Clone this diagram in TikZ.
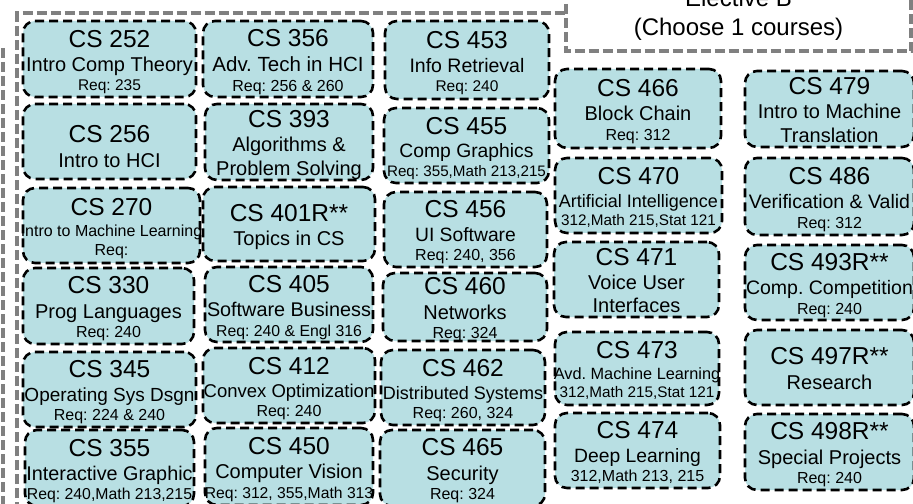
\documentclass[tikz,border=0pt]{standalone}
\usepackage{fontspec}
\setmainfont{Liberation Sans}
\frenchspacing
\definecolor{boxfill}{RGB}{184,223,227}
\definecolor{framegray}{RGB}{128,128,128}
\tikzset{
  coursebox/.style={draw=black, fill=boxfill, line width=2.6bp, dash pattern=on 9bp off 5bp, rounded corners=12bp, inner sep=0pt},
  coursetext/.style={align=center, inner sep=0pt, font=\offinterlineskip\frenchspacing},
  grayframe/.style={draw=framegray, line width=4bp, dash pattern=on 10bp off 4bp},
  electtext/.style={anchor=base, inner sep=0pt, font=\fontsize{24bp}{24bp}\selectfont}
}
\newcommand\CTitle[1]{{\fontsize{24.5bp}{24.5bp}\selectfont\rule[-0.22em]{0pt}{1.17em}#1}}
\newcommand\CLine[2][20]{{\fontsize{#1bp}{#1bp}\selectfont\frenchspacing\rule[-0.22em]{0pt}{1.17em}#2}}
% name, x1, y1, x2, y2, downward shift, text
\newcommand\Course[7]{%
  \pgfmathsetmacro\cw{#4-#2}\pgfmathsetmacro\ch{#5-#3}%
  \pgfmathsetmacro\cx{(#2+#4)/2}\pgfmathsetmacro\cy{(#3+#5)/2}%
  \node[coursebox, minimum width=\cw bp, minimum height=\ch bp] (#1) at (\cx,\cy) {};
  \node[coursetext] (#1t) at ([yshift={-(#6)*1bp}]#1.center) {#7};
}
\begin{document}
\begin{tikzpicture}[x=1bp,y=-1bp]
\useasboundingbox (0,0) rectangle (913,504);
\clip (0,0) rectangle (913,504);
% gray frames
\draw[grayframe] (17,512) -- (17,13.5) -- (566,13.5);
\draw[grayframe] (566,-10) -- (566,51.5) -- (911,51.5) -- (911,-10);
\draw[grayframe] (3,48) -- (3,512);
\node[electtext] (electBtitle) at (738.5,7) {Elective B};
\node[electtext] (electBsub) at (738.5,36) {(Choose 1 courses)};
% column 1
\Course{cs252}{23}{21}{196}{97}{0}{\CTitle{CS 252}\\\CLine{Intro Comp Theory}\\\CLine[15.5]{Req: 235}}
\Course{cs256}{23}{104}{196}{179}{4}{\CTitle{CS 256}\\\CLine{Intro to HCI}}
\Course{cs270}{23}{188}{200}{263}{0}{\CTitle{CS 270}\\\CLine[16]{Intro to Machine Learning}\\\CLine[16]{Req:}}
\Course{cs330}{23}{268}{194}{344}{0}{\CTitle{CS 330}\\\CLine{Prog Languages}\\\CLine[16]{Req: 240}}
\Course{cs345}{23}{352}{196}{427}{0}{\CTitle{CS 345}\\\CLine[19]{Operating Sys Dsgn}\\\CLine[16]{Req: 224 \& 240}}
\Course{cs355}{25}{430}{194}{506}{0}{\CTitle{CS 355}\\\CLine[19.8]{Interactive Graphic}\\\CLine[15.8]{Req: 240,Math 213,215}}
% column 2
\Course{cs356}{203}{21}{373}{97}{0}{\CTitle{CS 356}\\\CLine[20.5]{Adv. Tech in HCI}\\\CLine[16]{Req: 256 \& 260}}
\Course{cs393}{205}{104}{373}{180}{0}{\CTitle{CS 393}\\\CLine{Algorithms \&}\\\CLine{Problem Solving}}
\Course{cs401}{203}{187}{375}{261}{0}{\CTitle{CS 401R**}\\\CLine{Topics in CS}}
\Course{cs405}{205}{267}{373}{342}{0}{\CTitle{CS 405}\\\CLine[19.8]{Software Business}\\\CLine[15.8]{Req: 240 \& Engl 316}}
\Course{cs412}{203}{348}{375}{423}{0}{\CTitle{CS 412}\\\CLine[18.5]{Convex Optimization}\\\CLine[16]{Req: 240}}
\Course{cs450}{205}{428}{373}{505}{0}{\CTitle{CS 450}\\\CLine{Computer Vision}\\\CLine[15.7]{Req: 312, 355,Math 313}}
% column 3
\Course{cs453}{385}{21}{549}{99}{0}{\CTitle{CS 453}\\\CLine[19.5]{Info Retrieval}\\\CLine[15.5]{Req: 240}}
\Course{cs455}{384}{108}{549}{183}{0}{\CTitle{CS 455}\\\CLine[19.3]{Comp Graphics}\\\CLine[15.2]{Req: 355,Math 213,215}}
\Course{cs456}{384}{192}{547}{267}{0}{\CTitle{CS 456}\\\CLine[19.3]{UI Software}\\\CLine[16]{Req: 240, 356}}
\Course{cs460}{383}{273}{547}{341}{0}{\CTitle{CS 460}\\\CLine{Networks}\\\CLine[16]{Req: 324}}
\Course{cs462}{381}{350}{545}{425}{0}{\CTitle{CS 462}\\\CLine[18]{Distributed Systems}\\\CLine[16]{Req: 260, 324}}
\Course{cs465}{380}{430}{545}{506}{0}{\CTitle{CS 465}\\\CLine{Security}\\\CLine[16]{Req: 324}}
% column 4
\Course{cs466}{555}{69}{721}{148}{0}{\CTitle{CS 466}\\\CLine{Block Chain}\\\CLine[16]{Req: 312}}
\Course{cs470}{555}{158}{722}{233}{0}{\CTitle{CS 470}\\\CLine[18]{Artificial Intelligence}\\\CLine[15.3]{312,Math 215,Stat 121}}
\Course{cs471}{554}{242}{719}{317}{0}{\CTitle{CS 471}\\\CLine{Voice User}\\\CLine{Interfaces}}
\Course{cs473}{555}{332}{719}{405}{0}{\CTitle{CS 473}\\\CLine[16.3]{Avd. Machine Learning}\\\CLine[15.3]{312,Math 215,Stat 121}}
\Course{cs474}{555}{413}{720}{488}{0}{\CTitle{CS 474}\\\CLine[19.3]{Deep Learning}\\\CLine[16]{312,Math 213, 215}}
% column 5
\Course{cs479}{745}{71}{914}{147}{0}{\CTitle{CS 479}\\\CLine{Intro to Machine}\\\CLine{Translation}}
\Course{cs486}{745}{158}{914}{235}{0}{\CTitle{CS 486}\\\CLine[19.5]{Verification \& Valid}\\\CLine[16]{Req: 312}}
\Course{cs493}{745}{245}{914}{320}{0}{\CTitle{CS 493R**}\\\CLine[19.5]{Comp. Competition}\\\CLine[16]{Req: 240}}
\Course{cs497}{745}{330}{914}{405}{0}{\CTitle{CS 497R**}\\\CLine{Research}}
\Course{cs498}{745}{414}{914}{490}{0}{\CTitle{CS 498R**}\\\CLine{Special Projects}\\\CLine[16]{Req: 240}}
\end{tikzpicture}
\end{document}
